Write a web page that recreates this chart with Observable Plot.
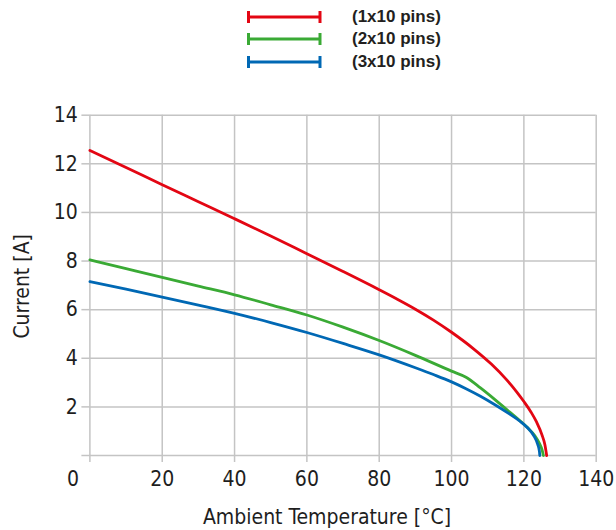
<!DOCTYPE html>
<html><head><meta charset="utf-8">
<script src="https://cdn.jsdelivr.net/npm/d3@7"></script>
<script src="https://cdn.jsdelivr.net/npm/@observablehq/plot@0.6"></script>
<style>
body{margin:0;background:#fff;}
#legend{position:relative;width:616px;height:80px;font-family:"Liberation Sans",Arial,sans-serif;font-weight:bold;font-size:17px;color:#231f20;}
#legend .sw{position:absolute;left:244px;}
#legend .lb{position:absolute;left:352px;line-height:20px;}
</style></head><body>
<div id="legend"></div>
<div id="chart"></div>
<script>
const seriesNames = ["(1x10 pins)", "(2x10 pins)", "(3x10 pins)"];
const seriesColors = ["#e30613", "#3aaa35", "#0068b4"];

const tempRed = [0, 10, 20, 30, 40, 50, 60, 70, 80, 85, 90, 95, 100, 106, 111, 115, 118, 120, 122, 123.5, 125, 125.8, 126.3];
const currRed = [12.55, 11.85, 11.14, 10.44, 9.74, 9.03, 8.30, 7.57, 6.82, 6.43, 6.02, 5.57, 5.07, 4.40, 3.76, 3.15, 2.62, 2.22, 1.78, 1.38, 0.85, 0.45, 0];

const tempGreen = [0, 10, 20, 30, 40, 50, 60, 70, 80, 90, 100, 104, 108, 112, 116, 119, 121, 123, 124.3, 125, 125.4];
const currGreen = [8.05, 7.69, 7.33, 6.97, 6.61, 6.20, 5.78, 5.28, 4.73, 4.12, 3.47, 3.22, 2.78, 2.30, 1.80, 1.42, 1.15, 0.82, 0.50, 0.25, 0];

const tempBlue = [0, 10, 20, 30, 40, 50, 60, 70, 80, 90, 95, 100, 104, 108, 112, 116, 119, 121, 122.8, 123.8, 124.3, 124.4];
const currBlue = [7.15, 6.84, 6.52, 6.19, 5.85, 5.47, 5.06, 4.61, 4.14, 3.61, 3.33, 3.03, 2.75, 2.44, 2.09, 1.71, 1.40, 1.14, 0.80, 0.47, 0.17, 0];

const xTicks = [0, 20, 40, 60, 80, 100, 120, 140];
const xTickLabels = [20, 40, 60, 80, 100, 120, 140];
const yTicks = [0, 2, 4, 6, 8, 10, 12, 14];
const yTickLabels = [2, 4, 6, 8, 10, 12, 14];

const series = [
  {name: seriesNames[0], t: tempRed, c: currRed},
  {name: seriesNames[1], t: tempGreen, c: currGreen},
  {name: seriesNames[2], t: tempBlue, c: currBlue}
];
const rows = [];
series.forEach(s => s.t.forEach((t, k) => rows.push({series: s.name, t, i: s.c[k]})));

// legend
const legend = document.getElementById("legend");
const legendTops = [16.5, 39, 61.5];
seriesNames.forEach((n, k) => {
  const y = legendTops[k];
  const sw = document.createElementNS("http://www.w3.org/2000/svg", "svg");
  sw.setAttribute("class", "sw");
  sw.setAttribute("width", 80); sw.setAttribute("height", 16);
  sw.style.top = (y - 8) + "px";
  sw.innerHTML = `<g stroke="${seriesColors[k]}" stroke-width="3"><line x1="4.5" x2="76" y1="8" y2="8"/><line x1="4.5" x2="4.5" y1="2" y2="14"/><line x1="76" x2="76" y1="2" y2="14"/></g>`;
  legend.appendChild(sw);
  const lb = document.createElement("div");
  lb.className = "lb";
  lb.textContent = n;
  lb.style.top = (y - 10) + "px";
  legend.appendChild(lb);
});

const gridColor = "#c4c4c4";
const textColor = "#1e1e1e";
const chart = Plot.plot({
  width: 616,
  height: 450,
  marginTop: 34.7,
  marginBottom: 75,
  marginLeft: 89.4,
  marginRight: 20.3,
  style: {fontFamily: "'Liberation Sans Narrow', 'DejaVu Sans Condensed', sans-serif", fontSize: "21px", color: textColor, background: "#fff"},
  x: {domain: [0, 140]},
  y: {domain: [0, 14]},
  color: {domain: seriesNames, range: seriesColors},
  marks: [
    Plot.gridX(xTicks, {stroke: gridColor, strokeOpacity: 1, strokeWidth: 1.5}),
    Plot.gridY(yTicks, {stroke: gridColor, strokeOpacity: 1, strokeWidth: 1.5}),
    Plot.axisX(xTicks, {tickSize: 7, stroke: gridColor, strokeWidth: 1.5, strokeOpacity: 1, tickFormat: () => "", label: null}),
    Plot.axisX(xTickLabels, {tickSize: 0, tickPadding: 16, fill: textColor, label: null}),
    Plot.axisX([0], {tickSize: 0, tickPadding: 16, dx: -17, fill: textColor, label: null}),
    Plot.axisY(yTicks, {tickSize: 8, stroke: gridColor, strokeWidth: 1.5, strokeOpacity: 1, tickFormat: () => "", label: null}),
    Plot.axisY(yTickLabels, {tickSize: 0, tickPadding: 12, fill: textColor, label: null}),
    Plot.line(rows, {x: "t", y: "i", z: "series", stroke: "series", strokeWidth: 2.8, curve: "monotone-x"}),
    Plot.text(["Ambient Temperature [°C]"], {frameAnchor: "bottom", textAnchor: "middle", dx: -16, dy: 68, fill: textColor, fontSize: 21}),
    Plot.text(["Current [A]"], {frameAnchor: "left", textAnchor: "middle", rotate: -90, dx: -68, dy: 1, fill: textColor, fontSize: 21})
  ]
});
document.getElementById("chart").appendChild(chart);
</script>
</body></html>
